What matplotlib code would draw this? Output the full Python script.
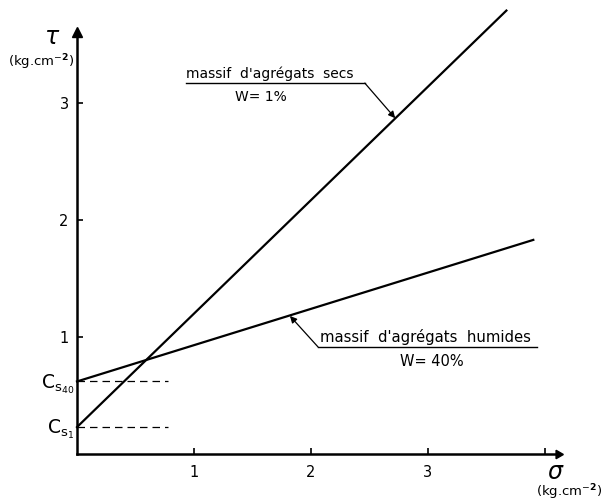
import numpy as np
import matplotlib
matplotlib.use('Agg')
import matplotlib.pyplot as plt

plt.rcParams['font.family'] = ['DejaVu Sans']
plt.rcParams['mathtext.fontset'] = 'dejavusans'

# data (kg.cm-2)
sigma_dry = [0.0, 3.67]
tau_dry = [0.23, 3.79]
sigma_wet = [0.0, 3.9]
tau_wet = [0.62, 1.83]
cs_values = [0.23, 0.62]
cs_labels = [r'$\mathrm{C_{s_1}}$', r'$\mathrm{C_{s_{40}}}$']
xticks = [1, 2, 3, 4]
xtick_labels = ['1', '2', '3', '']
yticks = [1, 2, 3]
ytick_labels = ['1', '2', '3']

W, H = 605, 503
fig = plt.figure(figsize=(W / 100, H / 100), dpi=100)
# axis origin at pixel (77, 454), 117 px per unit
ox, oy, unit = 77, 454, 117
x_end, y_end = 558, 32
ax = fig.add_axes([ox / W, (H - oy) / H, (x_end - ox) / W, (oy - y_end) / H])
ax.set_xlim(0, (x_end - ox) / unit)
ax.set_ylim(0, (oy - y_end) / unit)

for s in ['top', 'right']:
    ax.spines[s].set_visible(False)
for s in ['left', 'bottom']:
    ax.spines[s].set_linewidth(1.8)

ax.set_xticks(xticks)
ax.set_xticklabels(xtick_labels)
ax.set_yticks(yticks)
ax.set_yticklabels(ytick_labels)
ax.tick_params(direction='in', length=4, width=1.2, labelsize=10.5)
ax.tick_params(axis='x', pad=8)
ax.tick_params(axis='y', pad=6)

# arrow heads on axes
xmax = ax.get_xlim()[1]
ymax = ax.get_ylim()[1]
ax.plot(xmax, 0, marker=(3, 0, -90), ms=7, color='k', clip_on=False)
ax.plot(0, ymax, marker='^', ms=7, color='k', clip_on=False)

# failure lines
ax.plot(sigma_dry, tau_dry, color='k', lw=1.6, clip_on=False)
ax.plot(sigma_wet, tau_wet, color='k', lw=1.6, clip_on=False)

# cohesion dashes
for c, lab in zip(cs_values, cs_labels):
    ax.plot([0, 0.78], [c, c], color='k', lw=0.9, ls=(0, (6, 4)))
    ax.text(-0.02, c - 0.02, lab, ha='right', va='center', fontsize=13.5, clip_on=False)

# axis names
ax.text(-0.21, 3.56, r'$\tau$', fontsize=17, ha='center', va='center', fontweight='bold')
ax.text(-0.31, 3.35, r'(kg.cm$^{-\mathbf{2}}$)', fontsize=9.5, ha='center', va='center')
ax.text(4.09, -0.15, r'$\sigma$', fontsize=17, ha='center', va='center')
ax.text(4.21, -0.33, r'(kg.cm$^{-\mathbf{2}}$)', fontsize=9.5, ha='center', va='center')

# labels with leaders
ax.text(0.93, 3.25, "massif  d'agrégats  secs", fontsize=10, ha='left', va='center')
ax.plot([0.93, 2.46], [3.17, 3.17], color='k', lw=1)
ax.text(1.57, 3.05, 'W= 1%', fontsize=10, ha='center', va='center')
ax.annotate('', xy=(2.72, 2.87), xytext=(2.46, 3.17),
            arrowprops=dict(arrowstyle='-|>', lw=0.9, color='k', mutation_scale=10,
                            shrinkA=0, shrinkB=0), annotation_clip=False)

ax.text(2.08, 1.0, "massif  d'agrégats  humides", fontsize=10.7, ha='left', va='center')
ax.plot([2.06, 3.93], [0.915, 0.915], color='k', lw=1, clip_on=False)
ax.text(3.03, 0.79, 'W= 40%', fontsize=10.5, ha='center', va='center')
ax.annotate('', xy=(1.82, 1.18), xytext=(2.06, 0.915),
            arrowprops=dict(arrowstyle='-|>', lw=0.9, color='k', mutation_scale=10,
                            shrinkA=0, shrinkB=0), annotation_clip=False)

fig.savefig('out.png', dpi=100)
